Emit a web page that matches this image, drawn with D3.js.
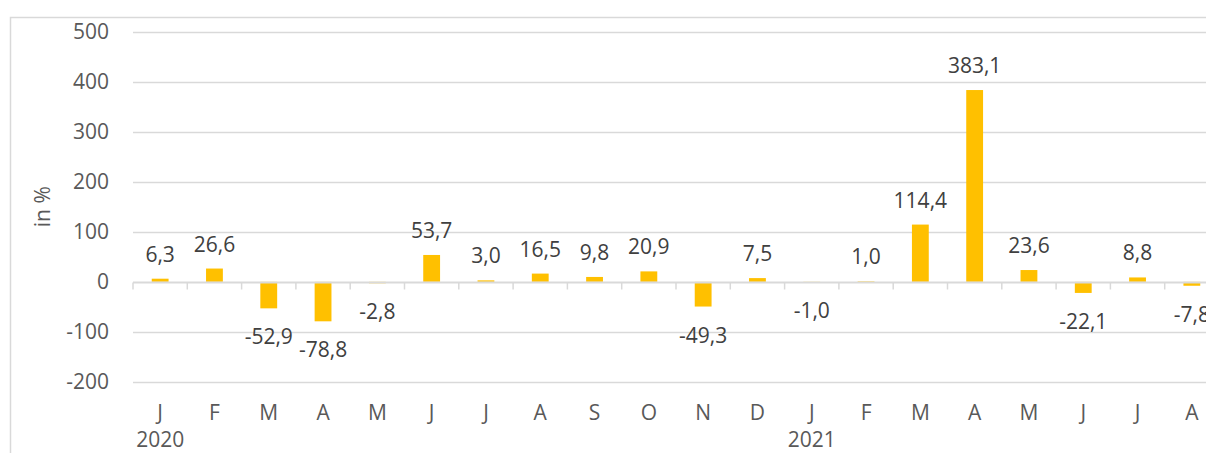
<!DOCTYPE html>
<html>
<head>
<meta charset="utf-8">
<script src="https://cdn.jsdelivr.net/npm/d3@7"></script>
<style>
  html, body { margin: 0; padding: 0; background: #fff; overflow: hidden; }
  svg { display: block; font-family: "Open Sans", "Noto Sans", sans-serif; }
</style>
</head>
<body>
<div id="chart"></div>
<script>
// monthly change, in %
const months = ['J', 'F', 'M', 'A', 'M', 'J', 'J', 'A', 'S', 'O', 'N', 'D',
                'J', 'F', 'M', 'A', 'M', 'J', 'J', 'A'];
const years = [{ label: '2020', index: 0 }, { label: '2021', index: 12 }];
const values = [6.3, 26.6, -52.9, -78.8, -2.8, 53.7, 3.0, 16.5, 9.8, 20.9, -49.3, 7.5,
                -1.0, 1.0, 114.4, 383.1, 23.6, -22.1, 8.8, -7.8];
const yTicks = [-200, -100, 0, 100, 200, 300, 400, 500];

const W = 1206, H = 453;
const fs = '21px';
const svg = d3.select('#chart').append('svg').attr('width', W).attr('height', H);

// outer chart frame (cut off on the right and bottom)
svg.append('rect').attr('x', 10.5).attr('y', 17.5).attr('width', 1300).attr('height', 500)
  .attr('fill', 'none').attr('stroke', '#d9d9d9').attr('stroke-width', 1.5);

const left = 133, band = 54.3;
const x = d3.scaleBand().domain(d3.range(months.length))
  .range([left, left + band * months.length]).paddingInner(0.69).paddingOuter(0.345);
const y = d3.scaleLinear().domain([-200, 500]).range([382, 31.5]);

// gridlines
svg.append('g').selectAll('line').data(yTicks.filter(d => d !== 0)).join('line')
  .attr('x1', left).attr('x2', W + 20)
  .attr('y1', d => Math.round(y(d)) + 0.5).attr('y2', d => Math.round(y(d)) + 0.5)
  .attr('stroke', '#d9d9d9').attr('stroke-width', 1.5);

// y tick labels
svg.append('g').selectAll('text').data(yTicks).join('text')
  .attr('x', 109).attr('y', d => y(d)).attr('dy', '0.35em')
  .attr('text-anchor', 'end').attr('fill', '#595959').style('font-size', fs)
  .text(d => d);

// y title
svg.append('text').attr('transform', `translate(50, ${y(150)}) rotate(-90)`)
  .attr('text-anchor', 'middle').attr('fill', '#595959').style('font-size', fs)
  .text('in %');

// bars
svg.append('g').selectAll('rect').data(values).join('rect')
  .attr('x', (d, i) => x(i)).attr('width', x.bandwidth())
  .attr('y', d => y(Math.max(0, d))).attr('height', d => Math.abs(y(d) - y(0)))
  .attr('fill', '#ffc000');

// zero axis line with tick marks between categories
const z = Math.round(y(0)) + 0.5;
svg.append('line').attr('x1', left).attr('x2', W + 20).attr('y1', z).attr('y2', z)
  .attr('stroke', '#d9d9d9').attr('stroke-width', 2);
svg.append('g').selectAll('line').data(d3.range(months.length + 1)).join('line')
  .attr('x1', i => left + i * band).attr('x2', i => left + i * band)
  .attr('y1', z).attr('y2', z + 7)
  .attr('stroke', '#d9d9d9').attr('stroke-width', 1.5);

// data labels
const fmt = v => v.toFixed(1).replace('.', ',');
svg.append('g').selectAll('text').data(values).join('text')
  .attr('x', (d, i) => x(i) + x.bandwidth() / 2)
  .attr('y', d => d >= 0 ? y(d) - 17 : y(d) + 36)
  .attr('text-anchor', 'middle').attr('fill', '#404040').style('font-size', fs)
  .text(fmt);

// month labels
svg.append('g').selectAll('text').data(months).join('text')
  .attr('x', (d, i) => x(i) + x.bandwidth() / 2).attr('y', 413).attr('dy', '0.35em')
  .attr('text-anchor', 'middle').attr('fill', '#595959').style('font-size', fs)
  .text(d => d);

// year labels
svg.append('g').selectAll('text').data(years).join('text')
  .attr('x', d => x(d.index) + x.bandwidth() / 2).attr('y', 440).attr('dy', '0.35em')
  .attr('text-anchor', 'middle').attr('fill', '#595959').style('font-size', fs)
  .text(d => d.label);
</script>
</body>
</html>
